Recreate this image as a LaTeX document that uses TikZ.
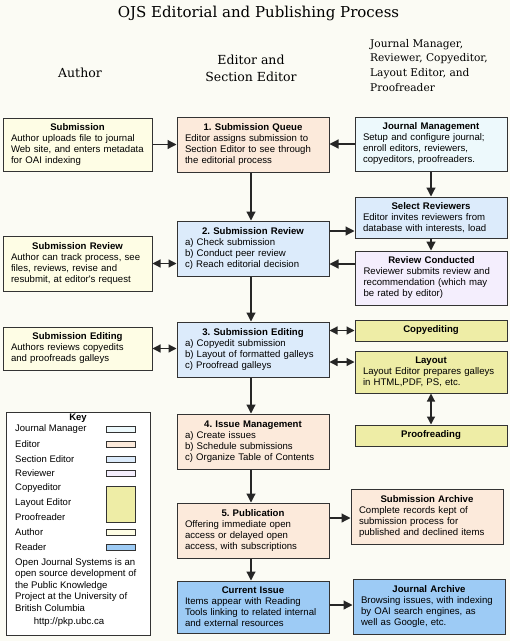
\documentclass[tikz,border=0pt]{standalone}
\usepackage{fontspec}
\setmainfont{DejaVu Serif}
\newfontfamily\arial{Liberation Sans}
\usetikzlibrary{arrows.meta,calc}
\definecolor{bgcol}{HTML}{FBFBF4}
\definecolor{authorcol}{HTML}{FEFDE5}
\definecolor{editorcol}{HTML}{FCEADB}
\definecolor{sectioncol}{HTML}{DCEBFB}
\definecolor{jmcol}{HTML}{EDF9FC}
\definecolor{reviewercol}{HTML}{F4EEFD}
\definecolor{copycol}{HTML}{EEEDA6}
\definecolor{readercol}{HTML}{9DCBF5}
\definecolor{bordercol}{HTML}{333333}
\newcommand{\bt}[1]{\makebox[\linewidth][c]{\bfseries #1}\\}
\tikzset{
  box/.style={draw=bordercol, line width=1pt, inner sep=0pt, align=left,
    font=\arial\fontsize{9.6}{11}\selectfont\frenchspacing},
  edcol/.style={minimum width=152pt, text width=136pt},
  aucol/.style={minimum width=149pt, text width=133pt},
  rtcol/.style={minimum width=152pt, text width=136pt},
  arr/.style={line width=1.2pt, draw=black!85, -{Triangle[length=9pt,width=9pt]}},
  darr/.style={line width=1.2pt, draw=black!85, {Triangle[length=8pt,width=8pt]}-{Triangle[length=8pt,width=8pt]}},
  keylabel/.style={anchor=west, inner sep=0pt, font=\arial\fontsize{9.5}{11}\selectfont},
  swatch/.style={draw=bordercol, line width=0.8pt},
  head/.style={inner sep=0pt, align=center}
}
\begin{document}
\begin{tikzpicture}[x=1pt,y=-1pt]
\path[fill=bgcol,use as bounding box] (0,0) rectangle (510,641);

% headings
\node[head, font=\fontsize{15}{17}\selectfont] (title) at (258.5,13) {OJS Editorial and Publishing Process};
\node[head, font=\fontsize{12.5}{17}\selectfont] (hauthor) at (80,73) {Author};
\node[head, font=\fontsize{12.5}{17}\selectfont] (heditor) at (251,68.5) {Editor and\\Section Editor};
\node[inner sep=0pt, align=left, anchor=north west, font=\fontsize{10.6}{14.6}\selectfont] (hjm) at (370,39) {Journal Manager,\\Reviewer, Copyeditor,\\Layout Editor, and\\Proofreader};

% author column
\node[box, aucol, fill=authorcol, minimum height=53pt] (subA) at (77.5,144.5)
  {\bt{Submission}Author uploads file to journal\\Web site, and enters metadata\\for OAI indexing};
\node[box, aucol, fill=authorcol, minimum height=55pt] (revA) at (77.5,263.5)
  {\bt{Submission Review}Author can track process, see\\files, reviews, revise and\\resubmit, at editor's request};
\node[box, aucol, fill=authorcol, minimum height=43pt] (editA) at (77.5,348.5)
  {\bt{Submission Editing}Authors reviews copyedits\\and proofreads galleys};

% editor column
\node[box, edcol, fill=editorcol, minimum height=55pt] (queue) at (253,144.5)
  {\bt{1. Submission Queue}Editor assigns submission to\\Section Editor to see through\\the editorial process};
\node[box, edcol, fill=sectioncol, minimum height=55pt] (rev) at (253,248.5)
  {\bt{2. Submission Review}a) Check submission\\b) Conduct peer review\\c) Reach editorial decision};
\node[box, edcol, fill=sectioncol, minimum height=55pt] (edit) at (253,349.5)
  {\bt{3. Submission Editing}a) Copyedit submission\\b) Layout of formatted galleys\\c) Proofread galleys};
\node[box, edcol, fill=editorcol, minimum height=55pt] (issue) at (253,441.5)
  {\bt{4. Issue Management}a) Create issues\\b) Schedule submissions\\c) Organize Table of Contents};
\node[box, edcol, fill=editorcol, minimum height=55pt] (pub) at (253,530.5)
  {\bt{5. Publication}Offering immediate open\\access or delayed open\\access, with subscriptions};
\node[box, edcol, fill=readercol, minimum height=52pt] (current) at (253,607)
  {\bt{Current Issue}Items appear with Reading\\Tools linking to related internal\\and external resources};

% right column
\node[box, rtcol, fill=jmcol, minimum height=54pt] (jm) at (431,144)
  {\bt{Journal Management}Setup and configure journal;\\enroll editors, reviewers,\\copyeditors, proofreaders.};
\node[box, rtcol, fill=sectioncol, minimum height=41pt] (selrev) at (431,217.5)
  {\bt{Select Reviewers}Editor invites reviewers from\\database with interests, load};
\node[box, rtcol, fill=reviewercol, minimum height=54pt] (revc) at (431.5,278)
  {\bt{Review Conducted}Reviewer submits review and\\recommendation (which may\\be rated by editor)};
\node[box, rtcol, fill=copycol, minimum height=21pt] (copy) at (431,330.5)
  {\bt{Copyediting}\vspace{-11pt}};
\node[box, rtcol, fill=copycol, minimum height=42pt] (layout) at (431,372)
  {\bt{Layout}Layout Editor prepares galleys\\in HTML,PDF, PS, etc.};
\node[box, rtcol, fill=copycol, minimum height=21pt] (proof) at (431,435.5)
  {\bt{Proofreading}\vspace{-11pt}};
\node[box, rtcol, fill=editorcol, minimum height=55pt] (archive) at (427,516.5)
  {\bt{Submission Archive}Complete records kept of\\submission process for\\published and declined items};
\node[box, rtcol, fill=readercol, minimum height=55pt] (jarch) at (429,606.5)
  {\bt{Journal Archive}Browsing issues, with indexing\\by OAI search engines, as\\well as Google, etc.};

% key
\node[draw=bordercol, line width=1pt, fill=white, minimum width=144pt, minimum height=223pt, inner sep=0pt] (key) at (78,523.5) {};
\node[inner sep=0pt, font=\arial\bfseries\fontsize{9.5}{11}\selectfont] (keytitle) at (78,418) {Key};
\node[keylabel] (kjm) at (15,429) {Journal Manager};
\node[keylabel] (ked) at (15,444) {Editor};
\node[keylabel] (kse) at (15,459) {Section Editor};
\node[keylabel] (krv) at (15,473.5) {Reviewer};
\node[keylabel] (kce) at (15,488) {Copyeditor};
\node[keylabel] (kle) at (15,503) {Layout Editor};
\node[keylabel] (kpr) at (15,517.5) {Proofreader};
\node[keylabel] (kau) at (15,532) {Author};
\node[keylabel] (kre) at (15,547) {Reader};
\draw[swatch, fill=jmcol] (106,426) rectangle (135,432);
\draw[swatch, fill=editorcol] (106,441) rectangle (135,447);
\draw[swatch, fill=sectioncol] (106,456) rectangle (135,462);
\draw[swatch, fill=reviewercol] (106,470.5) rectangle (135,476.5);
\draw[swatch, fill=copycol] (106,486) rectangle (135,522);
\draw[swatch, fill=authorcol] (106,529) rectangle (135,535);
\draw[swatch, fill=readercol] (106,544) rectangle (135,550);
\node[inner sep=0pt, anchor=north west, align=left, font=\arial\fontsize{9.6}{11.6}\selectfont] (kpara) at (15,558)
  {Open Journal Systems is an\\open source development of\\the Public Knowledge\\Project at the University of\\British Columbia};
\node[inner sep=0pt, font=\arial\fontsize{9.6}{11}\selectfont] (kurl) at (69,622) {http://pkp.ubc.ca};

% connectors
\draw[arr] (subA.east) -- (subA.east -| queue.west);
\draw[arr] (jm.west) -- (jm.west -| queue.east);
\draw[arr] (jm.south) -- (selrev.north);
\draw[arr] ([xshift=-2pt]queue.south) -- ([xshift=-2pt]rev.north);
\draw[arr] ([yshift=17.5pt]rev.east) -- ([yshift=17.5pt]rev.east -| selrev.west);
\draw[arr] (selrev.south) -- (selrev.south |- revc.north);
\draw[arr] ([yshift=14pt]revc.west) -- ([yshift=14pt]revc.west -| rev.east);
\draw[darr] (revA.east) -- (revA.east -| rev.west);
\draw[arr] ([xshift=-2pt]rev.south) -- ([xshift=-2pt]edit.north);
\draw[darr] (editA.east) -- (editA.east -| edit.west);
\draw[darr] (copy.west -| edit.east) -- (copy.west);
\draw[darr] ([yshift=10pt]layout.west -| edit.east) -- ([yshift=10pt]layout.west);
\draw[darr] (layout.south) -- (layout.south |- proof.north);
\draw[arr] ([xshift=-2pt]edit.south) -- ([xshift=-2pt]issue.north);
\draw[arr] ([xshift=-2pt]issue.south) -- ([xshift=-2pt]pub.north);
\draw[arr] ([yshift=12.5pt]pub.east) -- ([yshift=12.5pt]pub.east -| archive.west);
\draw[arr] ([xshift=-2pt]pub.south) -- ([xshift=-2pt]current.north);
\draw[arr] ([yshift=2pt]current.east) -- ([yshift=2pt]current.east -| jarch.west);
\end{tikzpicture}
\end{document}
